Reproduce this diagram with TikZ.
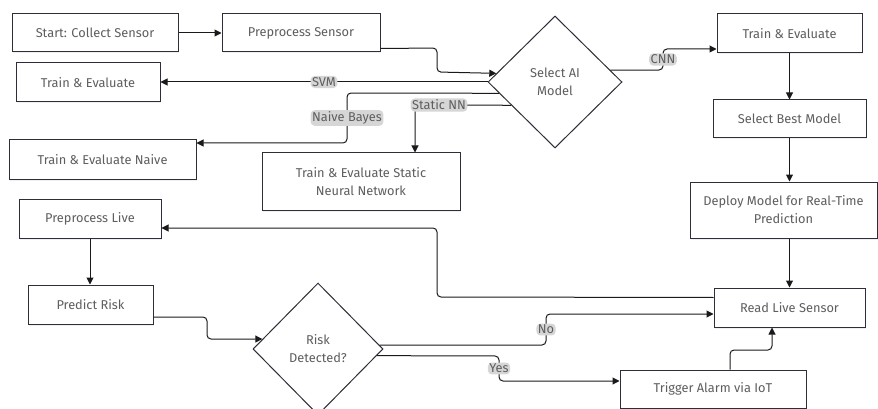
\documentclass[tikz,border=0pt]{standalone}
\usepackage{fontspec}
\setmainfont{Fira Sans}
\usetikzlibrary{arrows.meta,shapes.geometric,calc,shadows}
\definecolor{boxline}{HTML}{2E2E3A}
\definecolor{txt}{HTML}{5E5E5E}
\definecolor{edge}{HTML}{1A1A1A}
\definecolor{lblbg}{HTML}{D6D6D6}
\begin{document}
\begin{tikzpicture}[x=1pt,y=-1pt,
  every node/.style={font=\fontsize{12.8}{18}\selectfont},
  box/.style={draw=boxline, line width=1pt, fill=white, rectangle, inner sep=2pt,
    align=center, text=txt, drop shadow={opacity=0.12, shadow xshift=1pt, shadow yshift=-1.5pt}},
  dec/.style={draw=boxline, line width=1pt, fill=white, diamond, inner sep=0pt,
    align=center, text=txt},
  arr/.style={draw=edge, line width=1pt, rounded corners=4pt,
    -{Triangle[length=7pt,width=7pt]}},
  lbl/.style={fill=lblbg, text=txt, inner sep=1.5pt}]
\useasboundingbox (0,0) rectangle (878,409);

% process boxes
\node[box, minimum width=166pt, minimum height=38pt] (start) at (95,33) {Start: Collect Sensor};
\node[box, minimum width=158pt, minimum height=38pt] (pre) at (301,33) {Preprocess Sensor};
\node[box, minimum width=144pt, minimum height=39pt] (tel) at (88,82.5) {Train \& Evaluate};
\node[box, minimum width=187pt, minimum height=39pt] (naive) at (102.5,159.5) {Train \& Evaluate Naive};
\node[box, minimum width=198pt, minimum height=57pt] (stat) at (361,181.5) {Train \& Evaluate Static\\Neural Network};
\node[box, minimum width=142pt, minimum height=39pt] (pl) at (90,218.5) {Preprocess Live};
\node[box, minimum width=125pt, minimum height=39pt] (pr) at (90.5,304.5) {Predict Risk};
\node[box, minimum width=145pt, minimum height=39pt] (ter) at (789.5,33.5) {Train \& Evaluate};
\node[box, minimum width=153pt, minimum height=38pt] (sbm) at (789.5,119) {Select Best Model};
\node[box, minimum width=187pt, minimum height=56pt] (dep) at (783.5,210) {Deploy Model for Real-Time\\Prediction};
\node[box, minimum width=151pt, minimum height=39pt] (rls) at (789.5,307.5) {Read Live Sensor};
\node[box, minimum width=186pt, minimum height=38pt] (tai) at (713,389) {Trigger Alarm via IoT};

% decisions
\node[dec, minimum width=134pt, minimum height=132pt] (sel) at (555,82) {Select AI\\Model};
\node[dec, minimum width=130pt, minimum height=132pt] (rd) at (318,349) {Risk\\Detected?};

% training branch
\draw[arr] (start.east) -- (pre.west);
\draw[arr] ([yshift=4pt]pre.south east) -- (437,48) -- (437,72) -- ($(sel.west)!0.13!(sel.north)$);
\draw[arr] (sel.west) -- node[lbl, pos=0.5] {SVM} (sel.west -| tel.east);
\draw[arr] ($(sel.west)!0.17!(sel.south)$) -- (347,93) -- node[lbl] {Naive Bayes} (347,143) -- (naive.east |- 0,143);
\draw[arr] ($(sel.west)!0.35!(sel.south)$) -- node[lbl, pos=0.75] {Static NN} (415,105) -- (415,105 |- stat.north);
\draw[arr] ($(sel.east)!0.18!(sel.north)$) -- (663,70) -- node[lbl] {CNN} (663,49) -- (ter.west |- 0,49);
\draw[arr] (ter.south) -- (sbm.north);
\draw[arr] (sbm.south) -- (sbm.south |- dep.north);
\draw[arr] (dep.south -| sbm.south) -- (rls.north);

% live monitoring loop
\draw[arr] ([yshift=10pt]rls.west) -- (437,297) -- (437,228) -- (pl.east |- 0,228);
\draw[arr] (pl.south) -- (pl.south |- pr.north);
\draw[arr] ([yshift=-12.5pt]pr.east) -- (207,317) -- (207,339) -- ($(rd.west)!0.15!(rd.north)$);
\draw[arr] ($(rd.east)!0.06!(rd.north)$) -- (546,345) -- node[lbl] {No} (546,314) -- (rls.west |- 0,314);
\draw[arr] ($(rd.east)!0.1!(rd.south)$) -- (499,356) -- node[lbl] {Yes} (499,381) -- (tai.west |- 0,381);
\draw[arr] (730,0 |- tai.north) -- (730,350) -- (772,350) -- (772,0 |- rls.south);
\end{tikzpicture}
\end{document}
